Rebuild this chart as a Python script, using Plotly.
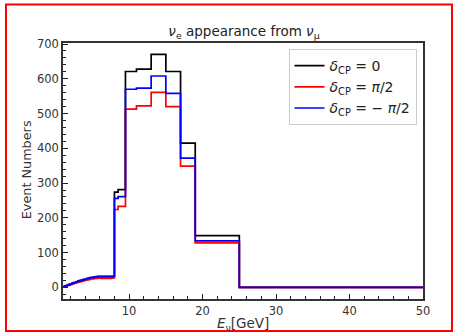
import plotly.graph_objects as go

# Bin edges (GeV)
bin_edges = [1.0, 1.25, 1.5, 1.75, 2.0, 2.25, 2.5, 2.75, 3.0, 3.25, 3.5, 3.75,
             4.0, 4.25, 4.5, 4.75, 5.0, 5.25, 5.5, 5.75, 6.0, 6.25, 6.5, 6.75,
             7.0, 7.25, 7.5, 7.75, 8.0, 8.5, 9.5, 11.0, 13.0, 15.0, 17.0, 19.0,
             25.0, 50.0]

# Event numbers per bin
events_dcp0 = [2, 4, 6, 8, 10, 12, 14, 16, 18, 19.5, 21, 22.5,
               24, 25.5, 27, 28, 29, 30, 31, 31.5, 31.5, 31, 31.5, 31,
               31.5, 31, 31.5, 32, 274, 281, 621, 628, 670, 621, 415, 149, 0]
events_dcp_pi2 = [1.7, 3.4, 5, 6.8, 8.5, 10, 12, 13.5, 15, 16.5, 18, 19,
                  20.5, 21.5, 23, 24, 24.5, 25.5, 26, 26.5, 26.5, 26, 26.5, 26,
                  26.5, 26, 26.5, 27, 224, 233, 513, 522, 561, 520, 349, 128, 0]
events_dcp_mpi2 = [2, 4, 6, 8, 10, 12, 14, 16, 18, 19.5, 21, 22.5,
                   24, 25.5, 27, 28, 29, 30, 30.5, 31, 31, 30.5, 31, 30.5,
                   31, 30.5, 31, 31.5, 256, 261, 570, 573, 608, 558, 372, 134, 0]

series_names = ["<i>δ</i><sub>CP</sub> = 0",
                "<i>δ</i><sub>CP</sub> = <i>π</i>/2",
                "<i>δ</i><sub>CP</sub> = − <i>π</i>/2"]
series_values = [events_dcp0, events_dcp_pi2, events_dcp_mpi2]
series_colors = ["black", "red", "blue"]

x_tickvals = [10, 20, 30, 40, 50]
y_tickvals = [0, 100, 200, 300, 400, 500, 600, 700]

fig = go.Figure()
for name, vals, col in zip(series_names, series_values, series_colors):
    xs = [bin_edges[0]] + list(bin_edges)
    ys = [0] + list(vals) + [0]
    fig.add_trace(go.Scatter(x=xs, y=ys, mode="lines", name=name,
                             line=dict(color=col, width=1.7, shape="hv")))

L, R, T, B = 63, 32, 42.5, 35
W, H = 455, 334
pw, ph = W - L - R, H - T - B

def px_to_paper_x(px):
    return (px - L) / pw

def px_to_paper_y(py):
    return (H - B - py) / ph

axis_common = dict(showline=True, linecolor="#333", linewidth=1.6, mirror=True,
                   ticks="inside", ticklen=5, tickwidth=1.4, tickcolor="#222",
                   showgrid=False, zeroline=False,
                   tickfont=dict(family="DejaVu Sans", size=11.5, color="#333"))

fig.update_layout(
    width=W, height=H,
    margin=dict(l=L, r=R, t=T, b=B),
    paper_bgcolor="white", plot_bgcolor="white",
    font=dict(family="DejaVu Sans", color="#222"),
    title=dict(text="<i>ν</i><sub>e</sub> appearance from <i>ν</i><sub>μ</sub>",
               x=px_to_paper_x(244), xref="paper", xanchor="center",
               y=(H - 31.5) / H, yref="container", yanchor="middle",
               font=dict(size=13.5, color="#222")),
    xaxis=dict(range=[1, 50], tickvals=x_tickvals,
               minor=dict(dtick=2, tick0=0, ticks="inside", ticklen=3,
                          tickwidth=1.2, tickcolor="#222"),
               **axis_common),
    yaxis=dict(range=[-33.5, 703], tickvals=y_tickvals,
               minor=dict(dtick=20, tick0=0, ticks="inside", ticklen=3,
                          tickwidth=1.2, tickcolor="#222"),
               **axis_common),
    legend=dict(x=px_to_paper_x(416.5), y=px_to_paper_y(48.5),
                xanchor="right", yanchor="top",
                bgcolor="rgba(255,255,255,0.85)", bordercolor="#ccc",
                borderwidth=1, font=dict(family="DejaVu Sans", size=14, color="#222")),
    showlegend=True,
    annotations=[
        dict(text="Event Numbers", textangle=-90, xref="paper", yref="paper",
             x=px_to_paper_x(26), y=px_to_paper_y(170), showarrow=False,
             xanchor="center", yanchor="middle",
             font=dict(size=12.8, color="#333")),
        dict(text="<i>E</i><sub>ν</sub>[GeV]", xref="paper", yref="paper",
             x=px_to_paper_x(243), y=px_to_paper_y(324), showarrow=False,
             xanchor="center", yanchor="middle",
             font=dict(size=13.5, color="#333")),
    ],
    shapes=[
        dict(type="rect", xref="paper", yref="paper",
             x0=px_to_paper_x(6), x1=px_to_paper_x(452),
             y0=px_to_paper_y(331), y1=px_to_paper_y(4),
             line=dict(color="red", width=2), fillcolor="rgba(0,0,0,0)",
             layer="above"),
    ],
)

fig.write_html("out.html")
